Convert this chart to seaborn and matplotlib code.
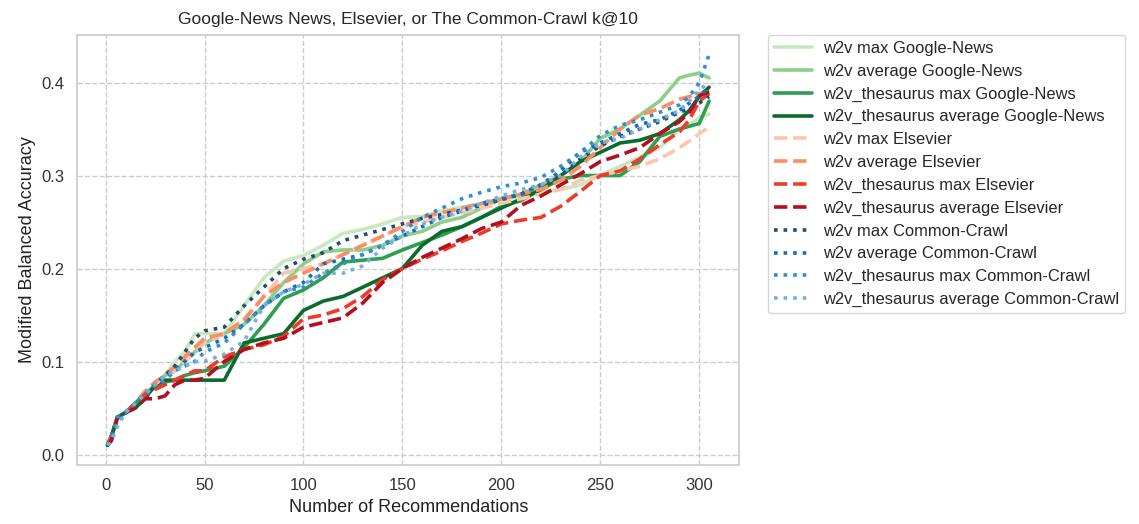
import matplotlib
matplotlib.use("Agg")
import matplotlib.pyplot as plt
import seaborn as sns
import pandas as pd

# number of recommendations (shared x positions)
recs = [1, 3, 6, 10, 15, 20, 25, 30, 35, 40, 45, 50, 60, 70, 80, 90, 100, 110, 120, 130,
        140, 150, 160, 170, 180, 190, 200, 210, 220, 230, 240, 250, 260, 270, 280, 290,
        295, 300, 305]

# Google-News
gn_w2v_max = [0.01, 0.02, 0.04, 0.045, 0.055, 0.065, 0.075, 0.085, 0.10, 0.11, 0.13, 0.13, 0.13,
              0.16, 0.19, 0.208, 0.214, 0.225, 0.238, 0.242, 0.248, 0.255, 0.256, 0.262, 0.266,
              0.27, 0.274, 0.278, 0.282, 0.285, 0.29, 0.30, 0.31, 0.32, 0.33, 0.35, 0.355, 0.362, 0.366]
gn_w2v_avg = [0.01, 0.02, 0.04, 0.045, 0.055, 0.065, 0.075, 0.085, 0.09, 0.10, 0.11, 0.12, 0.13,
              0.14, 0.16, 0.185, 0.205, 0.218, 0.22, 0.22, 0.225, 0.235, 0.24, 0.25, 0.255,
              0.265, 0.275, 0.28, 0.29, 0.30, 0.315, 0.34, 0.35, 0.365, 0.38, 0.405, 0.408, 0.41, 0.405]
gn_thes_max = [0.01, 0.02, 0.04, 0.045, 0.055, 0.065, 0.072, 0.078, 0.08, 0.085, 0.088, 0.09, 0.095,
               0.115, 0.14, 0.168, 0.177, 0.19, 0.207, 0.209, 0.211, 0.22, 0.228, 0.236, 0.245,
               0.255, 0.267, 0.273, 0.285, 0.296, 0.30, 0.30, 0.30, 0.315, 0.342, 0.35, 0.353, 0.356, 0.38]
gn_thes_avg = [0.01, 0.02, 0.04, 0.045, 0.05, 0.06, 0.075, 0.08, 0.08, 0.08, 0.08, 0.08, 0.08,
               0.12, 0.125, 0.13, 0.155, 0.165, 0.17, 0.18, 0.19, 0.20, 0.225, 0.24, 0.245,
               0.255, 0.265, 0.275, 0.285, 0.30, 0.315, 0.325, 0.335, 0.338, 0.345, 0.36, 0.37, 0.385, 0.395]

# Elsevier
el_w2v_max = [0.01, 0.02, 0.04, 0.045, 0.055, 0.065, 0.075, 0.085, 0.09, 0.10, 0.11, 0.12, 0.13,
              0.145, 0.17, 0.195, 0.20, 0.205, 0.215, 0.225, 0.235, 0.245, 0.25, 0.255, 0.26,
              0.265, 0.27, 0.275, 0.28, 0.285, 0.295, 0.30, 0.305, 0.31, 0.318, 0.33, 0.337, 0.345, 0.352]
el_w2v_avg = [0.01, 0.02, 0.04, 0.045, 0.055, 0.068, 0.078, 0.085, 0.095, 0.105, 0.115, 0.125, 0.13,
              0.145, 0.17, 0.185, 0.195, 0.205, 0.215, 0.225, 0.235, 0.245, 0.255, 0.26, 0.265,
              0.27, 0.275, 0.28, 0.285, 0.295, 0.31, 0.33, 0.35, 0.365, 0.372, 0.382, 0.385, 0.388, 0.39]
el_thes_max = [0.01, 0.02, 0.04, 0.045, 0.055, 0.065, 0.07, 0.075, 0.08, 0.085, 0.09, 0.09, 0.105,
               0.113, 0.118, 0.127, 0.146, 0.15, 0.157, 0.17, 0.188, 0.20, 0.21, 0.219, 0.229,
               0.238, 0.248, 0.252, 0.255, 0.267, 0.283, 0.30, 0.305, 0.318, 0.333, 0.347, 0.36, 0.38, 0.388]
el_thes_avg = [0.01, 0.015, 0.04, 0.045, 0.05, 0.06, 0.06, 0.063, 0.075, 0.08, 0.08, 0.082, 0.10,
               0.113, 0.12, 0.125, 0.137, 0.142, 0.147, 0.163, 0.185, 0.20, 0.212, 0.222, 0.232,
               0.243, 0.25, 0.268, 0.278, 0.29, 0.302, 0.315, 0.322, 0.33, 0.345, 0.358, 0.368, 0.386, 0.39]

# Common-Crawl
cc_w2v_max = [0.01, 0.02, 0.04, 0.045, 0.055, 0.065, 0.075, 0.085, 0.095, 0.11, 0.125, 0.133, 0.137,
              0.16, 0.18, 0.20, 0.21, 0.217, 0.23, 0.236, 0.242, 0.248, 0.254, 0.258, 0.263,
              0.268, 0.274, 0.28, 0.29, 0.30, 0.318, 0.332, 0.342, 0.35, 0.358, 0.368, 0.372, 0.378, 0.385]
cc_w2v_avg = [0.01, 0.02, 0.035, 0.045, 0.055, 0.065, 0.075, 0.085, 0.09, 0.10, 0.11, 0.115, 0.125,
              0.14, 0.16, 0.175, 0.185, 0.205, 0.21, 0.215, 0.225, 0.235, 0.245, 0.255, 0.262,
              0.27, 0.275, 0.28, 0.29, 0.305, 0.325, 0.335, 0.345, 0.355, 0.36, 0.37, 0.378, 0.385, 0.395]
cc_thes_max = [0.01, 0.02, 0.04, 0.045, 0.055, 0.065, 0.075, 0.08, 0.09, 0.095, 0.10, 0.11, 0.12,
               0.14, 0.16, 0.175, 0.18, 0.195, 0.205, 0.215, 0.225, 0.24, 0.255, 0.265, 0.275,
               0.282, 0.288, 0.292, 0.298, 0.31, 0.325, 0.343, 0.354, 0.36, 0.368, 0.376, 0.385, 0.40, 0.43]
cc_thes_avg = [0.01, 0.015, 0.03, 0.045, 0.055, 0.065, 0.075, 0.085, 0.09, 0.095, 0.10, 0.10, 0.108,
               0.122, 0.16, 0.175, 0.183, 0.195, 0.195, 0.203, 0.222, 0.235, 0.248, 0.255, 0.262,
               0.27, 0.278, 0.285, 0.29, 0.30, 0.32, 0.335, 0.34, 0.35, 0.36, 0.37, 0.38, 0.392, 0.40]

series = [
    ("w2v max Google-News", gn_w2v_max, "#c7e9c0", "-"),
    ("w2v average Google-News", gn_w2v_avg, "#8ccf89", "-"),
    ("w2v_thesaurus max Google-News", gn_thes_max, "#2f9e50", "-"),
    ("w2v_thesaurus average Google-News", gn_thes_avg, "#0b6b2e", "-"),
    ("w2v max Elsevier", el_w2v_max, "#fcc5ad", "--"),
    ("w2v average Elsevier", el_w2v_avg, "#fc8d62", "--"),
    ("w2v_thesaurus max Elsevier", el_thes_max, "#ef3b2c", "--"),
    ("w2v_thesaurus average Elsevier", el_thes_avg, "#b30f1c", "--"),
    ("w2v max Common-Crawl", cc_w2v_max, "#234c6e", ":"),
    ("w2v average Common-Crawl", cc_w2v_avg, "#1570b0", ":"),
    ("w2v_thesaurus max Common-Crawl", cc_thes_max, "#2f8fd0", ":"),
    ("w2v_thesaurus average Common-Crawl", cc_thes_avg, "#78b0dd", ":"),
]

sns.set_theme(style="whitegrid")
plt.rcParams["font.family"] = ["Liberation Sans", "DejaVu Sans"]
plt.rcParams["grid.linestyle"] = "--"
plt.rcParams["grid.color"] = "#cccccc"
plt.rcParams["axes.edgecolor"] = "#cccccc"

fig, ax = plt.subplots(figsize=(11.39, 5.24), dpi=100)
fig.subplots_adjust(left=0.068, right=0.649, top=0.933, bottom=0.113)

for name, vals, color, ls in series:
    df = pd.DataFrame({"n": recs, "acc": vals})
    sns.lineplot(data=df, x="n", y="acc", ax=ax, color=color, linestyle=ls,
                 linewidth=2.6, label=name)

ax.set_xticks([0, 50, 100, 150, 200, 250, 300])
ax.set_yticks([0.0, 0.1, 0.2, 0.3, 0.4])
ax.tick_params(labelsize=12, colors="#333333")
ax.set_xlabel("Number of Recommendations", fontsize=13, color="#222222")
ax.set_ylabel("Modified Balanced Accuracy", fontsize=13, color="#222222")
ax.set_title("Google-News News, Elsevier, or The Common-Crawl k@10", fontsize=12.5, pad=8)

ax.legend(loc="upper left", bbox_to_anchor=(1.044, 1.0), borderaxespad=0,
          fontsize=11.9, labelspacing=0.47, handlelength=2.3, handletextpad=0.65,
          borderpad=0.35, frameon=True, edgecolor="#cccccc")

fig.savefig("out.png", dpi=100)
